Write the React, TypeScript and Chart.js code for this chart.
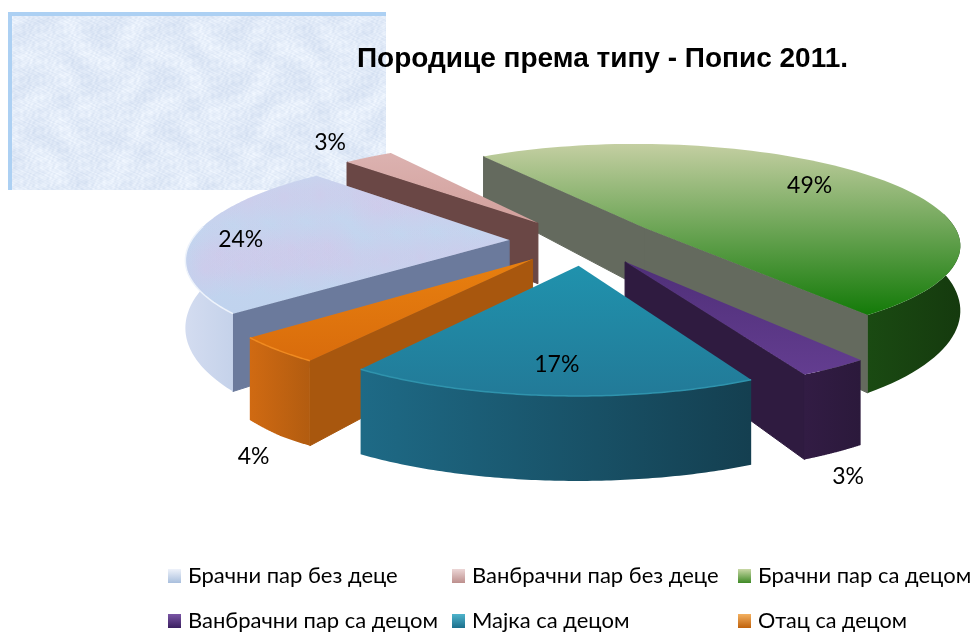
import React, { useEffect, useRef } from "react";
import { Chart, registerables } from "chart.js";

Chart.register(...registerables);

const categories = ["Брачни пар без деце", "Ванбрачни пар без деце", "Брачни пар са децом", "Ванбрачни пар са децом", "Мајка са децом", "Отац са децом"];
const shares = [24, 3, 49, 3, 17, 4];
const titleText = "Породице према типу - Попис 2011.";

const baseColors = ["#c4d5ee", "#d9adab", "#5f9a3c", "#5f3a8a", "#2389a6", "#e07210"];
const topStops = [["#c6d6ef", "#c0d3ee"], ["#dcb2b0", "#d2a09c"], ["#c4cfa2", "#137a08"], ["#4f2f78", "#633d90"], ["#2092ad", "#227a98"], ["#e8800f", "#d96c0c"]];
const wallColors = ["#6b7a9c", "#6a4745", "#646a5e", "#2f1b40", "#1c5a70", "#a8570e"];
const rimStops = [["#d3dcf0", "#c5d2ea"], ["#6a4745", "#6a4745"], ["#1a4a12", "#153a0e"], ["#321c44", "#2b193b"], ["#1e6a86", "#143f50"], ["#d06a12", "#b25c10"]];
const edgeLights = ["#eef3fb", "", "", "", "#2f93ad", "#f08a20"];
const drawOrder = [2, 1, 0, 3, 5, 4];

const legendX = [168, 452, 738];
const legendRows = [576, 621];
const legendWidths = [214, 252, 216, 255, 162, 149];
const legendGloss = [["#eef2fa", "#a9bfdd"], ["#ecd6d6", "#bd8f8d"], ["#c9d8a6", "#3f8a26"], ["#7a55a5", "#3b2060"], ["#4fb4cc", "#1b6f8c"], ["#f3b060", "#c0620c"]];

// label placement: fraction of radius from slice apex, turn from the slice's middle (deg)
const labelRadius = [0.846, 1.26, 0.75, 1.58, 0.79, 1.55];
const labelTurn = [-2, 0, -3, 14.3, 0, -18.3];

const TILT = 0.317;
const VIEW = 2000;

function depthAt(y: number) {
  return Math.min(85, 48 + 0.19 * (y - 157));
}

function drawTexture(ctx: CanvasRenderingContext2D) {
  const x0 = 8, y0 = 12, w = 378, h = 178;
  const img = ctx.createImageData(w, h);
  for (let j = 0; j < h; j++) {
    for (let i = 0; i < w; i++) {
      const n =
        Math.sin(i * 0.09 + Math.sin(j * 0.07) * 3) +
        Math.sin(j * 0.11 + Math.sin(i * 0.05) * 4) +
        Math.sin((i + j) * 0.71 + Math.sin(i * 0.29) * 3) +
        Math.sin((i - j) * 0.83 + Math.sin(j * 0.37) * 3) +
        Math.sin(i * 1.3 + Math.sin(j * 0.9) * 4);
      let r = 226 + n * 3.5, g = 235 + n * 2.8, b = 248 + n * 1.6;
      if (j < 4 || i < 4) { r = 172; g = 208; b = 243; }
      const k = (j * w + i) * 4;
      img.data[k] = r; img.data[k + 1] = g; img.data[k + 2] = b; img.data[k + 3] = 255;
    }
  }
  ctx.putImageData(img, x0, y0);
}

const pie3d = {
  id: "pie3d",
  beforeDraw(chart: any) {
    const { ctx } = chart;
    ctx.save();
    ctx.fillStyle = "#ffffff";
    ctx.fillRect(0, 0, chart.width, chart.height);
    ctx.restore();
    drawTexture(ctx);
  },
  beforeDatasetDraw(chart: any) {
    const { ctx } = chart;
    const arcs = chart.getDatasetMeta(0).data;
    const apexOf = (a: any) => {
      const mid = (a.startAngle + a.endAngle) / 2;
      const e = (a.options.offset || 0) / 4;
      return { ox: e * Math.cos(mid), oy: e * Math.sin(mid) };
    };
    const project = (a: any, X: number, Y: number) => {
      const s = 1 / (1 - Y / VIEW);
      return { x: a.x + X * s, y: a.y + TILT * Y * s };
    };
    for (const i of drawOrder) {
      const a = arcs[i];
      const { ox, oy } = apexOf(a);
      const R = a.outerRadius;
      const at = (t: number) => project(a, ox + R * Math.cos(t), oy + R * Math.sin(t));
      const apex = project(a, ox, oy);
      const down = (p: { x: number; y: number }) => ({ x: p.x, y: p.y + depthAt(p.y) });
      const steps = 90;
      const samples: number[] = [];
      for (let k = 0; k <= steps; k++) samples.push(a.startAngle + ((a.endAngle - a.startAngle) * k) / steps);

      const wall = (t: number) => {
        const p = at(t);
        const q = down(p), r = down(apex);
        ctx.beginPath();
        ctx.moveTo(apex.x, apex.y);
        ctx.lineTo(p.x, p.y);
        ctx.lineTo(q.x, q.y);
        ctx.lineTo(r.x, r.y);
        ctx.closePath();
        ctx.fillStyle = wallColors[i];
        ctx.fill();
        ctx.strokeStyle = wallColors[i];
        ctx.lineWidth = 1;
        ctx.stroke();
      };
      if (-Math.cos(a.startAngle) > 0) wall(a.startAngle);
      if (Math.cos(a.endAngle) > 0) wall(a.endAngle);

      const front = samples.filter((t) => Math.sin(t) > -0.15);
      if (front.length > 1) {
        const pts = front.map(at);
        const xs = pts.map((p) => p.x);
        const g = ctx.createLinearGradient(Math.min(...xs), 0, Math.max(...xs), 0);
        g.addColorStop(0, rimStops[i][0]);
        g.addColorStop(1, rimStops[i][1]);
        ctx.beginPath();
        pts.forEach((p, k) => (k ? ctx.lineTo(p.x, p.y) : ctx.moveTo(p.x, p.y)));
        [...pts].reverse().forEach((p) => {
          const q = down(p);
          ctx.lineTo(q.x, q.y);
        });
        ctx.closePath();
        ctx.fillStyle = g;
        ctx.fill();
      }

      const outline = samples.map(at);
      const ys = outline.map((p) => p.y).concat(apex.y);
      const tg = ctx.createLinearGradient(0, Math.min(...ys), 0, Math.max(...ys));
      tg.addColorStop(0, topStops[i][0]);
      tg.addColorStop(1, topStops[i][1]);
      ctx.save();
      ctx.beginPath();
      ctx.moveTo(apex.x, apex.y);
      outline.forEach((p) => ctx.lineTo(p.x, p.y));
      ctx.closePath();
      ctx.fillStyle = tg;
      ctx.fill();
      if (i === 0) {
        ctx.clip();
        for (let n = 0; n < 26; n++) {
          const px = 190 + ((n * 137) % 310);
          const py = 185 + ((n * 61) % 120);
          const rr = ctx.createRadialGradient(px, py, 0, px, py, 30);
          rr.addColorStop(0, "rgba(214,196,232,0.45)");
          rr.addColorStop(1, "rgba(214,196,232,0)");
          ctx.fillStyle = rr;
          ctx.fillRect(px - 30, py - 30, 60, 60);
        }
      }
      ctx.restore();

      if (edgeLights[i] && front.length > 1) {
        ctx.beginPath();
        front.map(at).forEach((p, k) => (k ? ctx.lineTo(p.x, p.y) : ctx.moveTo(p.x, p.y)));
        ctx.strokeStyle = edgeLights[i];
        ctx.lineWidth = 1.5;
        ctx.stroke();
      }
    }

    ctx.save();
    ctx.fillStyle = "#000000";
    ctx.textAlign = "center";
    ctx.textBaseline = "middle";
    ctx.font = '23px Lato, "Open Sans", sans-serif';
    arcs.forEach((a: any, i: number) => {
      const { ox, oy } = apexOf(a);
      const t = (a.startAngle + a.endAngle) / 2 + (labelTurn[i] * Math.PI) / 180;
      const r = a.outerRadius * labelRadius[i];
      const p = project(a, ox + r * Math.cos(t), oy + r * Math.sin(t));
      ctx.fillText(`${shares[i]}%`, p.x, p.y);
    });
    ctx.restore();
    return false;
  },
  afterDraw(chart: any) {
    const { ctx } = chart;
    ctx.save();
    ctx.fillStyle = "#000000";
    ctx.textBaseline = "middle";
    ctx.textAlign = "left";
    ctx.font = 'bold 28px "Liberation Sans", Arial, sans-serif';
    ctx.fillText(titleText, 357, 59, 491);
    ctx.font = '22px Lato, "Open Sans", sans-serif';
    categories.forEach((c, i) => {
      const x = legendX[i % 3];
      const y = legendRows[Math.floor(i / 3)];
      const g = ctx.createLinearGradient(0, y - 7, 0, y + 7);
      g.addColorStop(0, legendGloss[i][0]);
      g.addColorStop(1, legendGloss[i][1]);
      ctx.fillStyle = g;
      ctx.fillRect(x, y - 7, 13, 14);
      ctx.fillStyle = "#000000";
      ctx.fillText(c, x + 20, y, legendWidths[i]);
    });
    ctx.restore();
  },
};

export default function App() {
  const ref = useRef<HTMLCanvasElement>(null);
  useEffect(() => {
    const chart = new Chart(ref.current as HTMLCanvasElement, {
      type: "pie",
      data: {
        labels: categories,
        datasets: [{ data: shares, backgroundColor: baseColors, borderWidth: 0, offset: 300, radius: 318 }],
      },
      options: {
        responsive: false,
        animation: false,
        rotation: 229,
        layout: { padding: { left: 188, right: 0, top: 0, bottom: 150 } },
        plugins: { legend: { display: false }, tooltip: { enabled: false }, title: { display: false } },
      },
      plugins: [pie3d],
    } as any);
    return () => chart.destroy();
  }, []);
  return (
    <div style={{ position: "fixed", left: 0, top: 0, width: 980, height: 632, background: "#fff" }}>
      <canvas ref={ref} width={980} height={632} style={{ display: "block" }} />
    </div>
  );
}
